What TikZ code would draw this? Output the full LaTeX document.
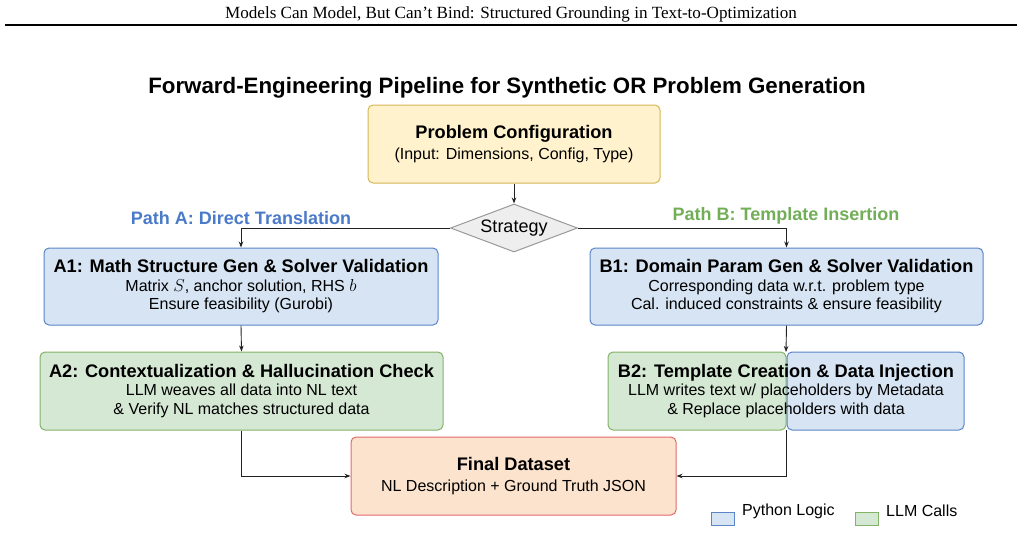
\documentclass[tikz,border=0pt]{standalone}
\usepackage{fontspec}
\setmainfont{Liberation Sans}
\newfontfamily\hdrfont{Liberation Serif}
\usetikzlibrary{shapes.geometric,arrows.meta}
\definecolor{bluefill}{HTML}{D7E4F3}
\definecolor{blueline}{HTML}{5A86C8}
\definecolor{greenfill}{HTML}{D5E8D4}
\definecolor{greenline}{HTML}{82B366}
\definecolor{yellowfill}{HTML}{FFF2CC}
\definecolor{yellowline}{HTML}{D6B656}
\definecolor{peachfill}{HTML}{FCE3CD}
\definecolor{redline}{HTML}{E06A6A}
\definecolor{greyfill}{HTML}{EEEEEE}
\definecolor{greyline}{HTML}{999999}
\definecolor{pathA}{HTML}{4A7AC8}
\definecolor{pathB}{HTML}{72AE57}
\definecolor{conn}{HTML}{222222}
\newcommand{\bxttl}{\bfseries\fontsize{18.2}{20}\selectfont}
\begin{document}
\begin{tikzpicture}[x=1pt,y=-1pt,
  box/.style={draw, rounded corners=5pt, line width=1pt, align=center, inner sep=0pt,
    font=\fontsize{16}{18.5}\selectfont},
  pybox/.style={box, fill=bluefill, draw=blueline},
  llmbox/.style={box, fill=greenfill, draw=greenline},
  arr/.style={draw=conn, line width=0.9pt, -{Stealth[length=6pt,width=4.5pt]}},
  pathlbl/.style={font=\bfseries\fontsize{18}{20}\selectfont}
]
\useasboundingbox (0,0) rectangle (1022,533);
% header
\node[font=\hdrfont\fontsize{17.1}{19}\selectfont, anchor=base] (hdr) at (511,18) {Models Can Model, But Can’t Bind: Structured Grounding in Text-to-Optimization};
\draw[line width=2pt] (5,24.5) -- (1017,24.5);
% title
\node[font=\bfseries\fontsize{22.3}{24}\selectfont] (title) at (507,88) {Forward-Engineering Pipeline for Synthetic OR Problem Generation};
% config
\node[box, fill=yellowfill, draw=yellowline, minimum width=292pt, minimum height=78pt] (cfg) at (514,144)
  {{\bxttl Problem Configuration}\\[3pt](Input: Dimensions, Config, Type)};
% strategy
\node[diamond, shape aspect=2.65, draw=greyline, fill=greyfill, line width=1pt, minimum width=127pt, minimum height=48pt, inner sep=0pt,
  font=\fontsize{18}{20}\selectfont] (strat) at (514,228) {Strategy};
% path labels
\node[pathlbl, text=pathA] (pa) at (241,218) {Path A: Direct Translation};
\node[pathlbl, text=pathB] (pb) at (786,216) {Path B: Template Insertion};
% A1
\node[pybox, minimum width=394pt, minimum height=77pt] (A1) at (241,286.5)
  {{\bxttl A1: Math Structure Gen \& Solver Validation}\\Matrix $S$, anchor solution, RHS $b$\\Ensure feasibility (Gurobi)};
% B1
\node[pybox, minimum width=393pt, minimum height=77pt] (B1) at (786.5,286.5)
  {{\bxttl B1: Domain Param Gen \& Solver Validation}\\Corresponding data w.r.t. problem type\\Cal. induced constraints \& ensure feasibility};
% A2
\node[llmbox, minimum width=403pt, minimum height=78pt] (A2) at (241.5,391)
  {{\bxttl A2: Contextualization \& Hallucination Check}\\LLM weaves all data into NL text\\\& Verify NL matches structured data};
% B2 split box
\node[llmbox, minimum width=178pt, minimum height=78pt] (B2g) at (697,391) {};
\node[pybox, minimum width=177pt, minimum height=78pt] (B2b) at (875.5,391) {};
\node[align=center, inner sep=0pt, font=\fontsize{16}{18.5}\selectfont] (B2) at (786,391)
  {{\bxttl B2: Template Creation \& Data Injection}\\LLM writes text w/ placeholders by Metadata\\\& Replace placeholders with data};
\coordinate (B2top) at (786,352);
\coordinate (B2bot) at (786,430);
% final
\node[box, fill=peachfill, draw=redline, minimum width=325pt, minimum height=78pt] (fin) at (513.5,476)
  {{\bxttl Final Dataset}\\[2pt]NL Description + Ground Truth JSON};
% connectors
\draw[arr] (cfg.south) -- (strat.north);
\draw[arr] (strat.west) -| (A1.north);
\draw[arr] (strat.east) -| (B1.north);
\draw[arr] (A1.south) -- (A2.north);
\draw[arr] (B1.south) -- (B2top);
\draw[arr] (A2.south) |- (fin.west);
\draw[arr] (B2bot) |- (fin.east);
% legend
\node[draw=blueline, fill=bluefill, line width=0.8pt, minimum width=23pt, minimum height=13pt, inner sep=0pt] (lgpy) at (723,519) {};
\node[anchor=west, font=\fontsize{16}{18}\selectfont, inner sep=0pt] (lgpyt) at (742,511) {Python Logic};
\node[draw=greenline, fill=greenfill, line width=0.8pt, minimum width=23pt, minimum height=13pt, inner sep=0pt] (lgllm) at (866.5,519) {};
\node[anchor=west, font=\fontsize{16}{18}\selectfont, inner sep=0pt] (lgllmt) at (886,511) {LLM Calls};
\end{tikzpicture}
\end{document}
